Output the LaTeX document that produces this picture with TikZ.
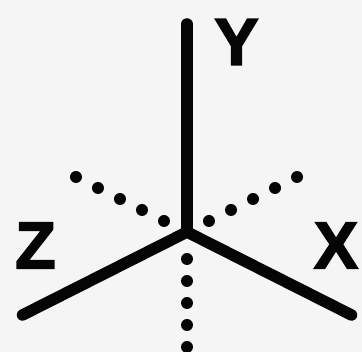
\documentclass[tikz,border=0pt]{standalone}
\definecolor{bgPanel}{HTML}{F5F5F5}
\definecolor{axisInk}{HTML}{050505}
\usepackage{fontspec}
\setmainfont[BoldFeatures={FakeBold=2.5}]{Liberation Sans}
\tikzset{
  axisline/.style={draw=axisInk, line width=11.5pt, line cap=round},
  hiddenaxis/.style={draw=axisInk, line width=12pt, line cap=round, dash pattern=on 0pt off #1},
  axislabel/.style={text=axisInk, inner sep=0pt, font=\fontsize{66}{66}\selectfont\bfseries}
}
\begin{document}
\begin{tikzpicture}[x=1pt, y=-1pt]
  \fill[bgPanel] (0,0) rectangle (362,352);
  \useasboundingbox (0,0) rectangle (362,352);
  \coordinate (origin) at (187,232);
  \coordinate (yEnd) at (187,24);
  \coordinate (zEnd) at (22.5,315);
  \coordinate (xEnd) at (351.5,315);
  % hidden axes
  \coordinate (zStart) at (164,221);
  \coordinate (zStop) at (75,176.5);
  \coordinate (xStart) at (209,221);
  \coordinate (xStop) at (298,176.5);
  \coordinate (yStart) at (187,259);
  \coordinate (yStop) at (187,348);
  \draw[hiddenaxis=24.6pt] (zStart) -- (zStop);
  \draw[hiddenaxis=24.6pt] (xStart) -- (xStop);
  \draw[hiddenaxis=22pt] (yStart) -- (yStop);
  % solid axes
  \draw[axisline, line join=miter] (zEnd) -- (origin) -- (xEnd);
  \draw[axisline] (origin) -- (yEnd);
  \node[axislabel] (yLabel) at (236.5,42) {Y};
  \node[axislabel] (zLabel) at (35.5,245.5) {Z};
  \node[axislabel] (xLabel) at (336,245.5) {X};
\end{tikzpicture}
\end{document}
